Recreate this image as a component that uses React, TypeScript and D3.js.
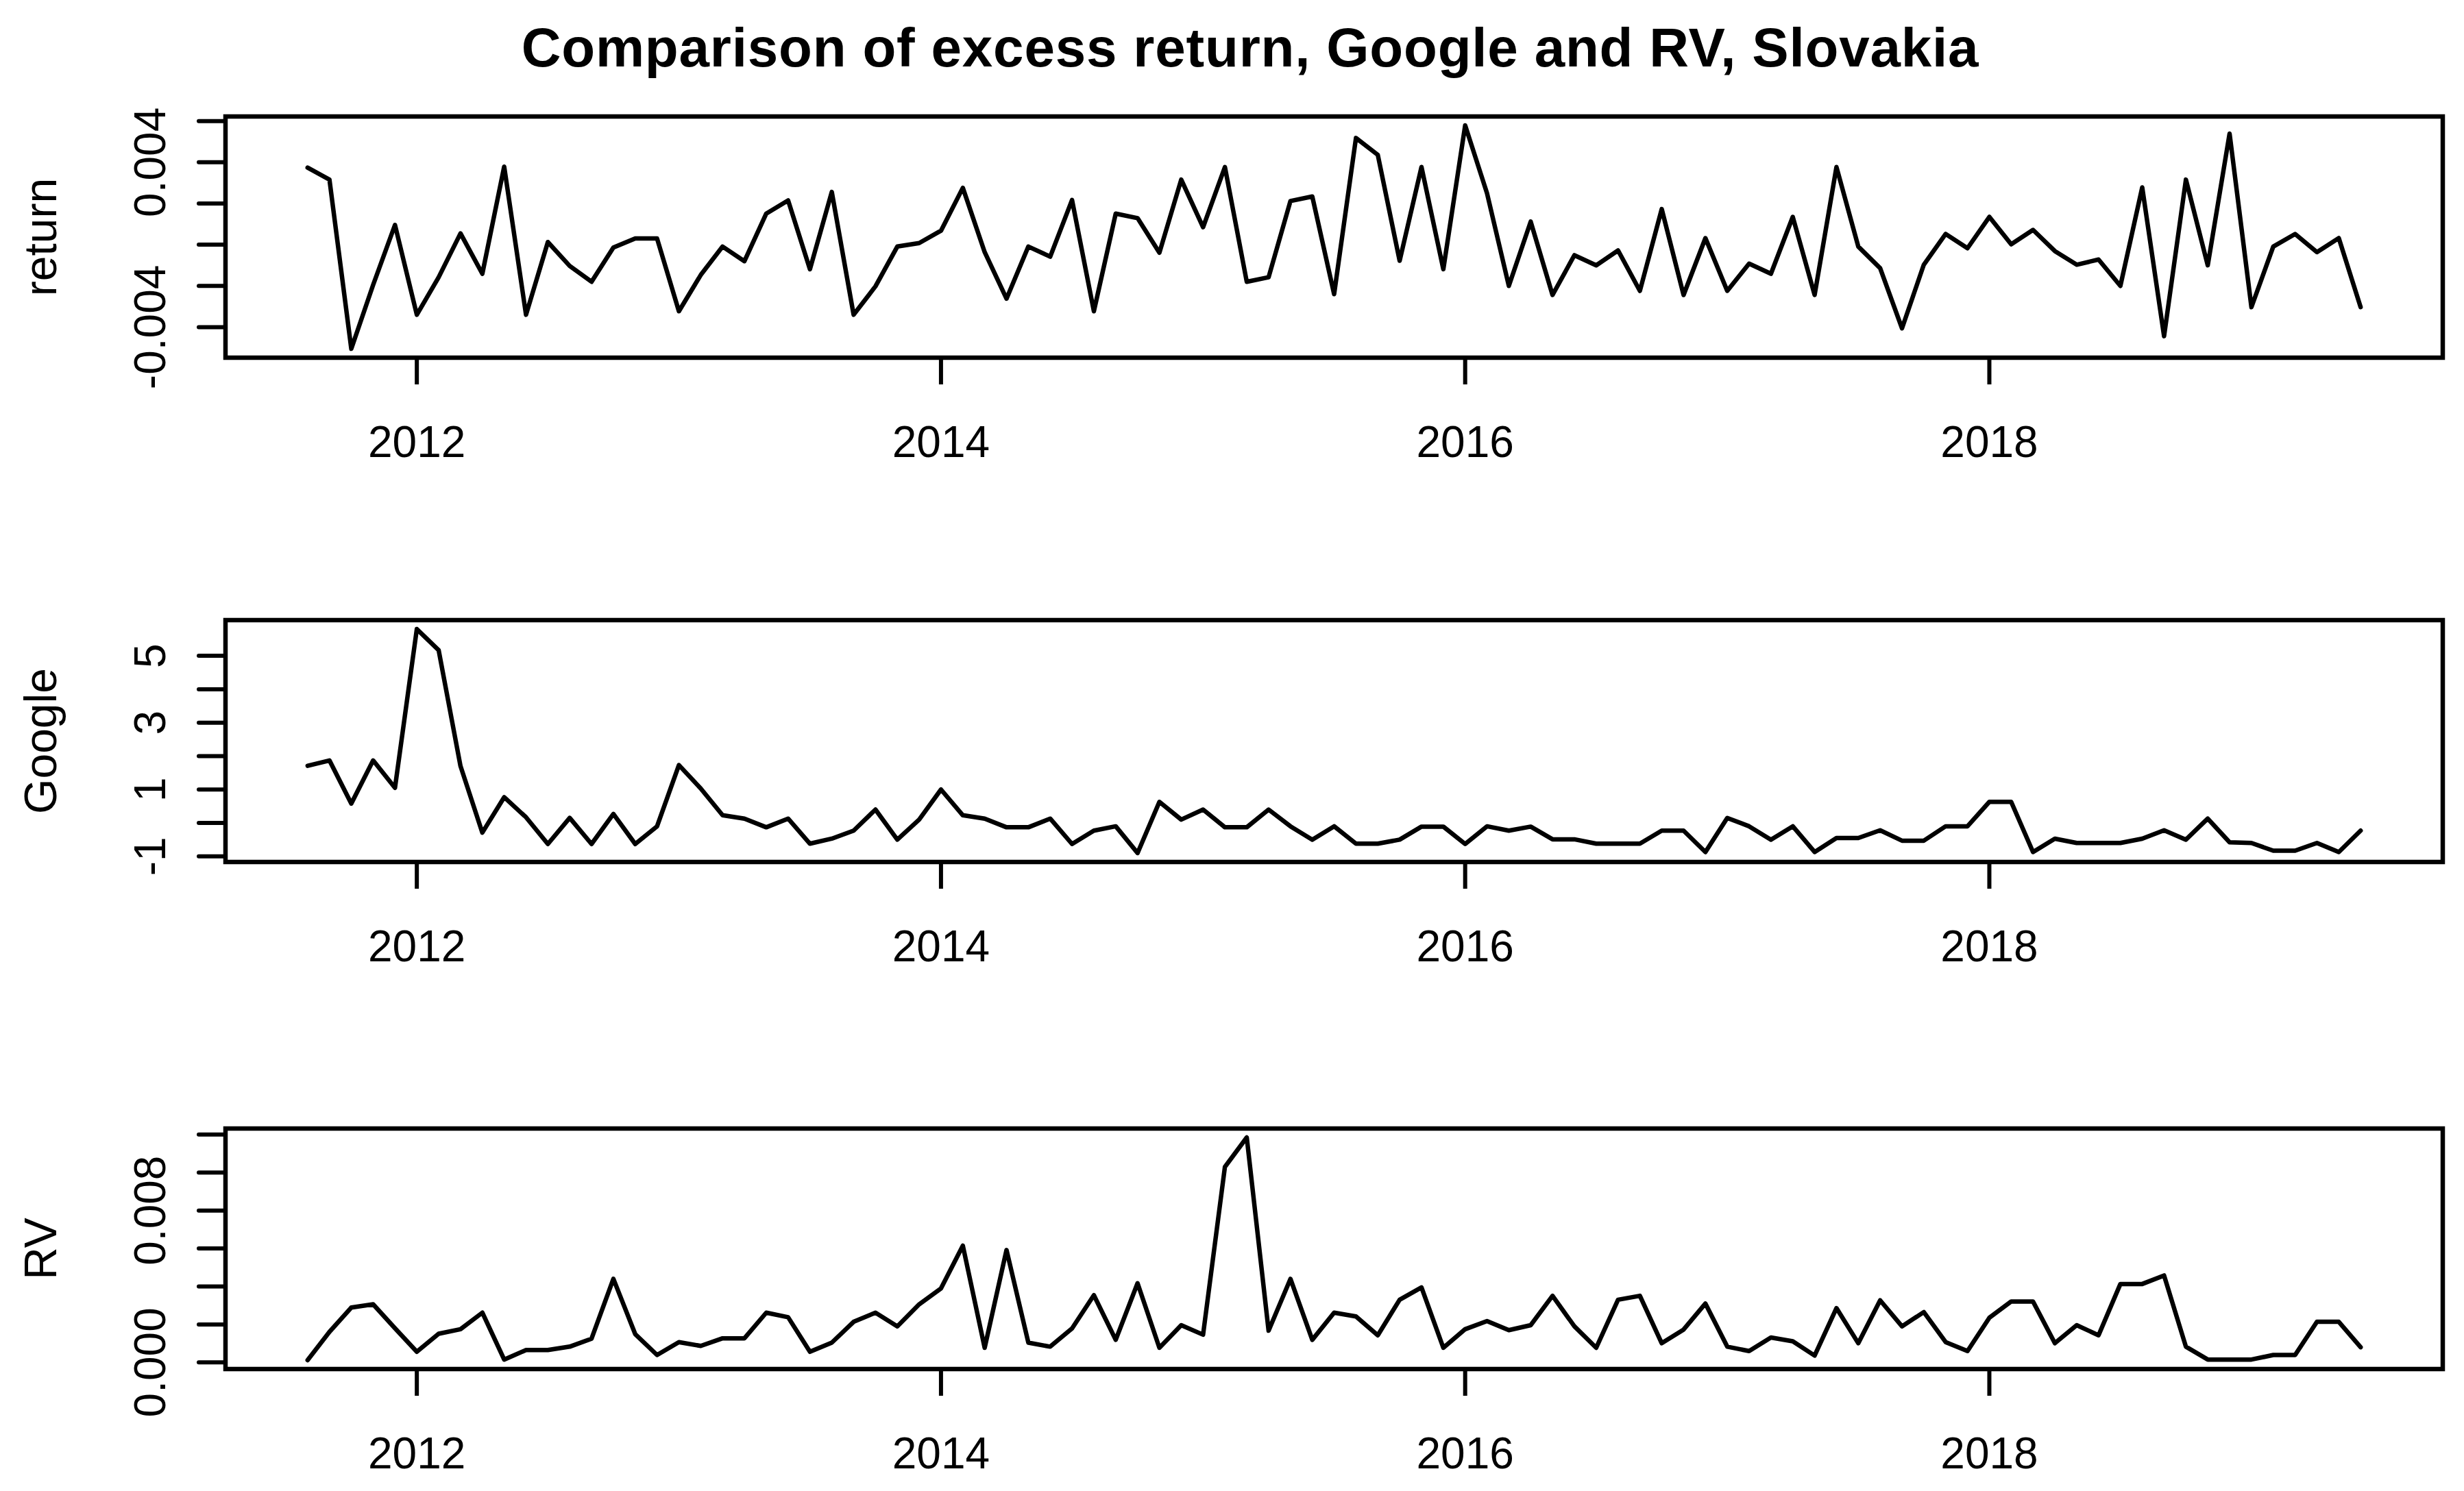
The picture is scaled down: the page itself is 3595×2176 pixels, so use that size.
import React from 'react';
import * as d3 from 'd3';

// monthly series, first observation Aug 2011
const startYear = 2011;
const startMonth = 8;

const returnVals = [
  3.74, 3.16, -5.05, -1.95, 0.96, -3.4, -1.58, 0.55, -1.41, 3.79,
  -3.4, 0.13, -1.03, -1.8, -0.14, 0.3, 0.3, -3.23, -1.47, -0.09,
  -0.8, 1.51, 2.15, -1.19, 2.56, -3.4, -2.02, -0.09, 0.08, 0.68,
  2.76, -0.36, -2.62, -0.09, -0.58, 2.17, -3.23, 1.51, 1.29, -0.39,
  3.16, 0.85, 3.77, -1.8, -1.58, 2.12, 2.34, -2.4, 5.18, 4.36,
  -0.78, 3.77, -1.19, 5.79, 2.5, -2.0, 1.12, -2.44, -0.51, -1.0,
  -0.28, -2.24, 1.73, -2.44, 0.32, -2.24, -0.92, -1.41, 1.35, -2.44,
  3.77, -0.09, -1.14, -4.06, -0.97, 0.52, -0.17, 1.35, 0.02, 0.72,
  -0.31, -0.97, -0.72, -2.0, 2.78, -4.44, 3.16, -1.0, 5.39, -3.03,
  -0.09, 0.52, -0.36, 0.32, -3.03,
].map(v => v / 1000);

const googleVals = [
  1.71, 1.87, 0.58, 1.87, 1.05, 5.8, 5.17, 1.7, -0.29, 0.77,
  0.17, -0.63, 0.15, -0.63, 0.27, -0.63, -0.1, 1.73, 1.03, 0.23,
  0.13, -0.13, 0.13, -0.62, -0.47, -0.23, 0.4, -0.5, 0.1, 1.0,
  0.23, 0.13, -0.13, -0.13, 0.13, -0.63, -0.23, -0.1, -0.9, 0.63,
  0.1, 0.4, -0.13, -0.13, 0.4, -0.1, -0.5, -0.1, -0.62, -0.62,
  -0.5, -0.11, -0.11, -0.63, -0.1, -0.23, -0.11, -0.49, -0.49, -0.62,
  -0.62, -0.62, -0.23, -0.23, -0.87, 0.15, -0.1, -0.5, -0.1, -0.87,
  -0.45, -0.45, -0.22, -0.53, -0.53, -0.1, -0.1, 0.63, 0.63, -0.87,
  -0.47, -0.6, -0.6, -0.6, -0.47, -0.22, -0.5, 0.13, -0.58, -0.6,
  -0.83, -0.83, -0.6, -0.87, -0.23,
];

const rvVals = [
  0.12, 1.61, 2.89, 3.06, 1.8, 0.56, 1.51, 1.75, 2.62, 0.15,
  0.65, 0.65, 0.83, 1.25, 4.4, 1.49, 0.39, 1.07, 0.87, 1.27,
  1.27, 2.62, 2.38, 0.56, 1.04, 2.14, 2.62, 1.9, 3.06, 3.9,
  6.15, 0.77, 5.92, 1.04, 0.83, 1.79, 3.54, 1.19, 4.17, 0.77,
  1.96, 1.46, 10.3, 11.85, 1.67, 4.4, 1.19, 2.62, 2.42, 1.43,
  3.3, 3.95, 0.77, 1.75, 2.18, 1.7, 1.96, 3.51, 1.9, 0.77,
  3.3, 3.51, 1.01, 1.73, 3.1, 0.83, 0.6, 1.31, 1.11, 0.36,
  2.86, 1.01, 3.27, 1.9, 2.65, 1.07, 0.6, 2.35, 3.21, 3.21,
  1.01, 1.96, 1.43, 4.13, 4.13, 4.58, 0.83, 0.15, 0.15, 0.15,
  0.39, 0.39, 2.14, 2.14, 0.8,
].map(v => v / 1000);

const xTickYears = [2012, 2014, 2016, 2018];

const returnTicks = [-0.004, -0.002, 0, 0.002, 0.004, 0.006];
const returnTickLabels = ['-0.004', '', '', '', '0.004', ''];
const googleTicks = [-1, 0, 1, 2, 3, 4, 5];
const googleTickLabels = ['-1', '', '1', '', '3', '', '5'];
const rvTicks = [0, 0.002, 0.004, 0.006, 0.008, 0.01, 0.012];
const rvTickLabels = ['0.000', '', '', '', '0.008', '', ''];

const title = 'Comparison of excess return, Google and RV, Slovakia';

const W = 3595;
const H = 2176;
const plotLeft = 329;
const plotRight = 3564;
const tickLen = 39;
const font = '"Liberation Sans", Arial, Helvetica, sans-serif';

const times = returnVals.map((_, i) => startYear + (startMonth - 1 + i) / 12);

// R style axis range: data extent plus 4% each side
const rRange = (vals: number[]): [number, number] => {
  const [lo, hi] = d3.extent(vals) as [number, number];
  const pad = (hi - lo) * 0.04;
  return [lo - pad, hi + pad];
};

const x = d3.scaleLinear().domain(rRange(times)).range([plotLeft, plotRight]);

const panels = [
  {name: 'return', values: returnVals, ticks: returnTicks, labels: returnTickLabels, top: 170, bottom: 522},
  {name: 'Google', values: googleVals, ticks: googleTicks, labels: googleTickLabels, top: 905, bottom: 1258},
  {name: 'RV', values: rvVals, ticks: rvTicks, labels: rvTickLabels, top: 1647, bottom: 1998},
];

const Panel: React.FC<{p: typeof panels[number]}> = ({p}) => {
  const y = d3.scaleLinear().domain(rRange(p.values)).range([p.bottom, p.top]);
  const line = d3
    .line<number>()
    .x((_, i) => x(times[i]))
    .y(d => y(d));
  const midY = (p.top + p.bottom) / 2;

  return (
    <g>
      <path
        d={line(p.values) || ''}
        fill="none"
        stroke="#000"
        strokeWidth={6.5}
        strokeLinejoin="round"
        strokeLinecap="round"
      />
      <rect
        x={plotLeft}
        y={p.top}
        width={plotRight - plotLeft}
        height={p.bottom - p.top}
        fill="none"
        stroke="#000"
        strokeWidth={6.5}
      />
      {/* x axis */}
      {xTickYears.map(yr => (
        <g key={yr}>
          <line
            x1={x(yr)}
            x2={x(yr)}
            y1={p.bottom}
            y2={p.bottom + tickLen}
            stroke="#000"
            strokeWidth={6}
          />
          <text
            x={x(yr)}
            y={p.bottom + 145}
            textAnchor="middle"
            fontSize={64}
            fontFamily={font}
          >
            {yr}
          </text>
        </g>
      ))}
      {/* y axis */}
      {p.ticks.map((t, i) => (
        <g key={t}>
          <line
            x1={plotLeft - tickLen}
            x2={plotLeft}
            y1={y(t)}
            y2={y(t)}
            stroke="#000"
            strokeWidth={6}
            strokeLinecap="round"
          />
          {p.labels[i] && (
            <text
              transform={`translate(241, ${y(t)}) rotate(-90)`}
              textAnchor="middle"
              fontSize={64}
              fontFamily={font}
            >
              {p.labels[i]}
            </text>
          )}
        </g>
      ))}
      <text
        transform={`translate(82, ${midY}) rotate(-90)`}
        textAnchor="middle"
        fontSize={66}
        fontFamily={font}
      >
        {p.name}
      </text>
    </g>
  );
};

const App: React.FC = () => (
  <svg
    width={W}
    height={H}
    viewBox={`0 0 ${W} ${H}`}
    style={{position: 'absolute', left: 0, top: 0, background: '#fff'}}
  >
    <rect x={0} y={0} width={W} height={H} fill="#fff" />
    <text
      x={1824}
      y={97}
      textAnchor="middle"
      fontSize={80}
      fontWeight="bold"
      fontFamily={font}
      letterSpacing={0.8}
    >
      {title}
    </text>
    {panels.map(p => (
      <Panel key={p.name} p={p} />
    ))}
  </svg>
);

export default App;
